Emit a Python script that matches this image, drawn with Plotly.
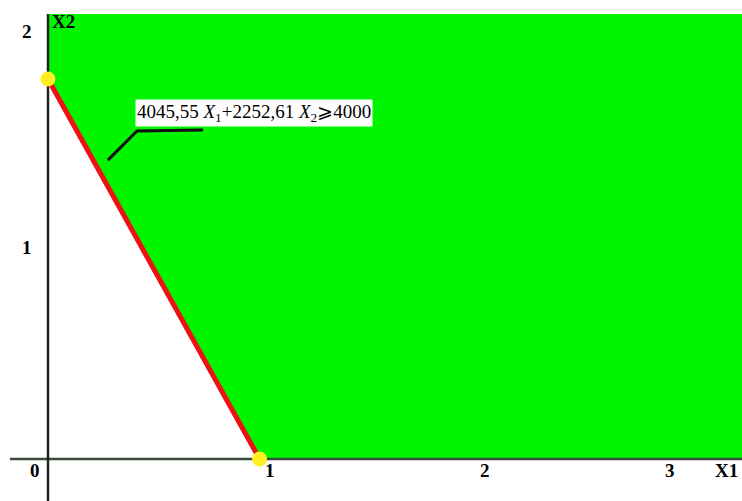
import plotly.graph_objects as go

# Constraint: 4045.55*X1 + 2252.61*X2 >= 4000
coef_x1 = 4045.55
coef_x2 = 2252.61
rhs = 4000.0
x_int = rhs / coef_x1
y_int = rhs / coef_x2

x_tick_vals = [0, 1, 2, 3]
x_tick_text = ["0", "1", "2", "3"]
y_tick_vals = [1, 2]
y_tick_text = ["1", "2"]

x_range = [-0.2243, 3.243]
y_range = [-0.196, 2.145]
top_fill = 2.08

fig = go.Figure()

# feasible region (green)
fig.add_trace(go.Scatter(
    x=[0, 0, x_range[1], x_range[1], x_int, 0],
    y=[y_int, top_fill, top_fill, 0, 0, y_int],
    fill="toself", fillcolor="#00F500", mode="lines",
    line=dict(width=0), hoverinfo="skip", showlegend=False))

# axes
fig.add_trace(go.Scatter(x=[-0.178, x_range[1]], y=[0, 0], mode="lines",
                         line=dict(color="#3a4a3a", width=2.5), showlegend=False, hoverinfo="skip"))
fig.add_trace(go.Scatter(x=[0, 0], y=[y_range[0], top_fill], mode="lines",
                         line=dict(color="#222222", width=2.5), showlegend=False, hoverinfo="skip"))

# constraint line
fig.add_trace(go.Scatter(x=[0, x_int], y=[y_int, 0], mode="lines",
                         line=dict(color="#EE1111", width=5), showlegend=False))
fig.add_trace(go.Scatter(x=[0, x_int], y=[y_int, 0], mode="markers",
                         marker=dict(color="#FFEE22", size=15), showlegend=False))

# callout leader
fig.add_trace(go.Scatter(x=[0.28, 0.416, 0.724], y=[1.397, 1.533, 1.537], mode="lines",
                         line=dict(color="#111111", width=3), showlegend=False, hoverinfo="skip"))

tick_font = dict(family="Liberation Serif", size=19, color="black")
x_shifts = {0: -13, 1: 8, 2: 9, 3: -20}
ann = []
for v, t in zip(x_tick_vals, x_tick_text):
    ann.append(dict(x=v, y=0, text=f"<b>{t}</b>", showarrow=False, font=tick_font,
                    xanchor="center", yanchor="middle", yshift=-11, xshift=x_shifts[v]))
for v, t in zip(y_tick_vals, y_tick_text):
    ann.append(dict(x=0, y=v, text=f"<b>{t}</b>", showarrow=False, font=tick_font,
                    xanchor="center", yanchor="middle", xshift=-21, yshift=(-2 if v == 1 else 0)))
ann.append(dict(x=x_range[1], y=0, text="<b>X1</b>", showarrow=False, font=tick_font,
                xanchor="right", yanchor="middle", yshift=-11, xshift=-2))
ann.append(dict(x=0, y=top_fill, text="<b>X2</b>", showarrow=False, font=tick_font,
                xanchor="left", yanchor="middle", xshift=2, yshift=-8))
ann.append(dict(x=0.405, y=1.617,
                text="4045,55 <i>X</i><sub>1</sub>+2252,61 <i>X</i><sub>2</sub>⩾4000",
                showarrow=False, xanchor="left", yanchor="middle",
                font=dict(family="Liberation Serif", size=19, color="black"),
                bgcolor="white", borderpad=1))

fig.update_layout(
    width=742, height=501,
    margin=dict(l=0, r=0, t=0, b=0),
    paper_bgcolor="white", plot_bgcolor="white",
    xaxis=dict(range=x_range, visible=False, fixedrange=True),
    yaxis=dict(range=y_range, visible=False, fixedrange=True),
    annotations=ann,
    showlegend=False,
)

fig.write_html("out.html",
               config={"displayModeBar": False},
               post_script="document.body.style.margin='0';document.body.style.overflow='hidden';")
